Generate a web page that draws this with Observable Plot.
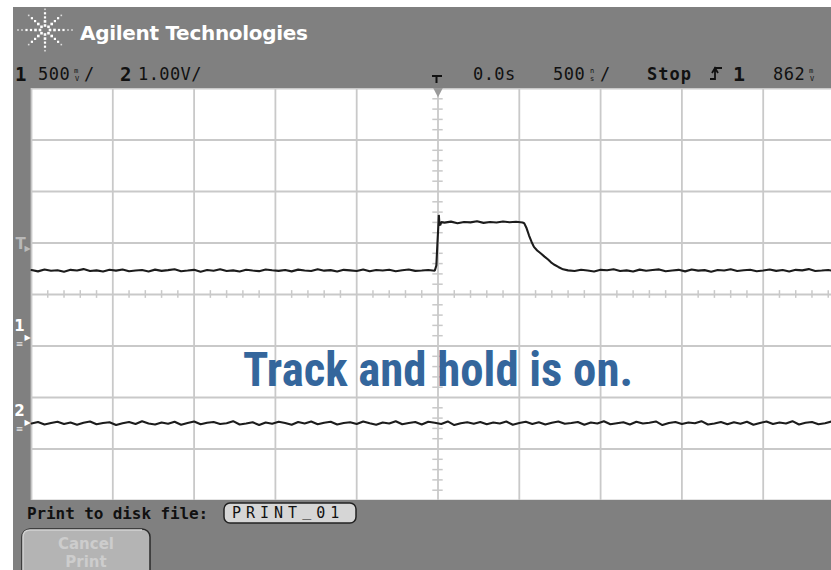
<!DOCTYPE html>
<html>
<head>
<meta charset="utf-8">
<script src="https://cdn.jsdelivr.net/npm/d3@7"></script>
<script src="https://cdn.jsdelivr.net/npm/@observablehq/plot@0.6"></script>
<style>
html, body { margin: 0; padding: 0; background: #ffffff; }
#scope { position: relative; width: 831px; height: 570px; overflow: hidden; background: #ffffff; }
#chrome { position: absolute; left: 0; top: 0; }
#screen { position: absolute; left: 13px; top: 88px; width: 818px; height: 412px; overflow: hidden; }
.mono { font-family: "DejaVu Sans Mono", monospace; }
.sans { font-family: "DejaVu Sans", sans-serif; }
</style>
</head>
<body>
<div id="scope">
  <svg id="chrome" width="831" height="570" xmlns="http://www.w3.org/2000/svg">
    <rect x="13" y="7" width="818" height="563" fill="#808080"></rect>
    <g id="logo"></g>
    <text x="80" y="40" class="sans" font-size="20" font-weight="bold" fill="#ffffff" letter-spacing="-0.3">Agilent Technologies</text>

    <!-- status line -->
    <g id="status" fill="#111111"></g>

    <!-- bottom softkeys -->
    <text x="27" y="519" class="mono" font-size="16" font-weight="bold" fill="#111111" letter-spacing="-0.1">Print to disk file:</text>
    <rect x="224" y="503" width="132" height="20" rx="6" fill="#d6d6d6" stroke="#222222" stroke-width="1.5"></rect>
    <text x="232" y="518" class="mono" font-size="15" fill="#111111" letter-spacing="5">PRINT<tspan dy="-2">_</tspan><tspan dy="2">01</tspan></text>
    <rect x="22" y="529" width="128" height="52" rx="8" fill="#b4b4b4" stroke="#2a2a2a" stroke-width="1.5"></rect>
    <path d="M23,575 V537 Q23,530 30,530 H142" fill="none" stroke="#d2d2d2" stroke-width="1.5"></path>
    <text x="86" y="549" class="sans" font-size="15" font-weight="bold" fill="#cdcdcd" text-anchor="middle">Cancel</text>
    <text x="86" y="567" class="sans" font-size="15" font-weight="bold" fill="#cdcdcd" text-anchor="middle">Print</text>
  </svg>
  <div id="screen"></div>
</div>
<script>
// ---------- scope settings (status line) ----------
const timePerDiv = 500;          // ns / div
const timeDomain = [-2500, 2500]; // ns, 10 divisions
const ch1VoltsPerDiv = 0.5;      // 500 mV/div
const ch2VoltsPerDiv = 1.0;      // 1.00 V/div
const ch1GroundDiv = -0.835;     // channel 1 ground marker position (divisions)
const ch2GroundDiv = -2.485;     // channel 2 ground marker position (divisions)
const triggerLevel = 0.862;      // V on channel 1
const triggerTime = 0;           // ns (trigger position marker)

// ---------- channel 1 trace (time ns, volts) ----------
const ch1Time = [
  -2500,-2460,-2420,-2380,-2340,-2300,-2260,-2220,-2180,-2140,
  -2100,-2060,-2020,-1980,-1940,-1900,-1860,-1820,-1780,-1740,
  -1700,-1660,-1620,-1580,-1540,-1500,-1460,-1420,-1380,-1340,
  -1300,-1260,-1220,-1180,-1140,-1100,-1060,-1020,-980,-940,
  -900,-860,-820,-780,-740,-700,-660,-620,-580,-540,
  -500,-460,-420,-380,-340,-300,-260,-220,-180,-140,
  -100,-60,-20,
  -10,-4,2,5,9,14,20,
  40,80,120,160,200,240,280,320,360,400,440,480,520,
  530,545,560,575,590,610,633,655,677,695,713,740,769,800,
  840,880,920,960,1000,1040,1080,1120,1160,1200,
  1240,1280,1320,1360,1400,1440,1480,1520,1560,1600,
  1640,1680,1720,1760,1800,1840,1880,1920,1960,2000,
  2040,2080,2120,2160,2200,2240,2280,2320,2360,2400,
  2440,2480,2500
];
const ch1Volt = [
  0.655,0.642,0.660,0.648,0.653,0.638,0.657,0.650,0.664,0.645,
  0.652,0.640,0.658,0.649,0.661,0.644,0.651,0.656,0.641,0.659,
  0.647,0.654,0.662,0.643,0.650,0.657,0.639,0.655,0.648,0.663,
  0.646,0.652,0.641,0.658,0.650,0.644,0.660,0.653,0.647,0.656,
  0.642,0.659,0.651,0.645,0.662,0.649,0.654,0.640,0.657,0.652,
  0.646,0.661,0.643,0.655,0.650,0.658,0.644,0.653,0.660,0.647,
  0.651,0.656,0.648,
  0.70,0.90,1.08,1.19,1.10,1.09,1.12,
  1.115,1.125,1.110,1.122,1.118,1.128,1.113,1.121,1.116,1.126,1.119,1.124,1.117,
  1.11,1.06,0.99,0.93,0.88,0.845,0.815,0.785,0.757,0.730,0.709,0.685,0.662,0.652,
  0.645,0.658,0.650,0.641,0.657,0.653,0.663,0.646,0.652,0.640,
  0.659,0.648,0.655,0.661,0.644,0.651,0.657,0.642,0.660,0.649,
  0.654,0.639,0.656,0.650,0.662,0.645,0.653,0.658,0.643,0.651,
  0.660,0.647,0.655,0.641,0.657,0.652,0.664,0.646,0.650,0.656,
  0.643,0.659,0.651
];

// ---------- channel 2 trace (time ns, volts) ----------
const ch2Time = [
  -2500,-2460,-2420,-2380,-2340,-2300,-2260,-2220,-2180,-2140,
  -2100,-2060,-2020,-1980,-1940,-1900,-1860,-1820,-1780,-1740,
  -1700,-1660,-1620,-1580,-1540,-1500,-1460,-1420,-1380,-1340,
  -1300,-1260,-1220,-1180,-1140,-1100,-1060,-1020,-980,-940,
  -900,-860,-820,-780,-740,-700,-660,-620,-580,-540,
  -500,-460,-420,-380,-340,-300,-260,-220,-180,-140,
  -100,-60,-20,20,60,100,140,180,220,260,
  300,340,380,420,460,500,540,580,620,660,
  700,740,780,820,860,900,940,980,1020,1060,
  1100,1140,1180,1220,1260,1300,1340,1380,1420,1460,
  1500,1540,1580,1620,1660,1700,1740,1780,1820,1860,
  1900,1940,1980,2020,2060,2100,2140,2180,2220,2260,
  2300,2340,2380,2420,2460,2500
];
const ch2Volt = [
  -0.02,0.01,-0.04,-0.01,0.015,-0.03,0.0,-0.045,-0.005,0.02,
  -0.035,-0.01,0.005,-0.05,-0.015,0.01,-0.03,0.025,-0.02,-0.04,
  0.0,-0.025,0.015,-0.045,-0.01,0.02,-0.035,-0.005,0.01,-0.03,
  -0.015,0.025,-0.04,-0.02,0.005,-0.05,0.0,-0.025,0.015,-0.01,
  -0.045,0.01,-0.02,0.02,-0.035,-0.005,0.015,-0.04,-0.01,0.005,
  -0.03,0.02,-0.015,-0.045,0.0,-0.02,0.025,-0.035,-0.01,0.01,
  -0.04,0.015,-0.005,-0.03,0.02,-0.05,-0.015,0.005,-0.025,0.01,
  -0.035,0.0,-0.02,0.02,-0.045,-0.01,0.015,-0.03,0.005,-0.04,
  -0.005,0.02,-0.025,-0.01,0.01,-0.045,0.0,-0.02,0.025,-0.035,
  -0.015,0.005,-0.04,0.015,-0.02,-0.005,0.02,-0.05,-0.01,0.01,
  -0.03,0.0,-0.015,0.025,-0.04,-0.02,0.01,-0.035,0.005,-0.025,
  0.015,-0.045,-0.01,0.02,-0.03,0.0,-0.02,0.025,-0.04,-0.005,
  0.01,-0.035,-0.015,0.02,-0.025,0.0
];

// ---------- labels ----------
const channelMarkers = ["T", "1", "2"];
const annotationText = "Track and hold is on.";

// ---------- chrome: logo + status line ----------
(function buildChrome() {
  const ns = "http://www.w3.org/2000/svg";
  const logo = document.getElementById("logo");
  const cx = 45, cy = 30;
  for (let k = 0; k < 8; k++) {
    const a = k * Math.PI / 4;
    const horiz = (k % 4 === 0);
    const radii = horiz ? [5, 9.5, 14, 18.5, 23, 27] : [5, 9.5, 14, 18.5, 23];
    radii.forEach((r, i) => {
      const s = i < 2 ? 2.6 : (i < 4 ? 2.2 : 1.6);
      const px = cx + r * Math.cos(a), py = cy + r * Math.sin(a) * 0.9;
      const c = document.createElementNS(ns, "rect");
      c.setAttribute("x", (px - s / 2).toFixed(1));
      c.setAttribute("y", (py - s / 2).toFixed(1));
      c.setAttribute("width", s); c.setAttribute("height", s);
      c.setAttribute("fill", i < 4 ? "#ffffff" : "#dddddd");
      logo.appendChild(c);
    });
  }
  const st = document.getElementById("status");
  function txt(x, y, s, size, bold, extra) {
    const t = document.createElementNS(ns, "text");
    t.setAttribute("x", x); t.setAttribute("y", y);
    t.setAttribute("font-size", size);
    t.setAttribute("font-family", "DejaVu Sans Mono, monospace");
    if (bold) t.setAttribute("font-weight", "bold");
    if (extra) for (const k in extra) t.setAttribute(k, extra[k]);
    t.textContent = s;
    st.appendChild(t);
  }
  function path(d, w) {
    const p = document.createElementNS(ns, "path");
    p.setAttribute("d", d); p.setAttribute("fill", "none");
    p.setAttribute("stroke", "#111111"); p.setAttribute("stroke-width", w || 2);
    st.appendChild(p);
  }
  const base = 80;
  txt(15, base + 1, "1", 19, true);
  txt(38, base, "500", 17, false, {"letter-spacing": "0.5"});
  txt(74, base - 7, "m", 7, false); txt(75, base + 1, "V", 7, false);
  txt(84, base, "/", 17, false);
  txt(120, base + 1, "2", 19, true);
  txt(138, base, "1.00V/", 17, false, {"letter-spacing": "0.4"});
  path("M432,76 H442 M436.5,76 V83", 2);
  txt(473, base, "0.0s", 17, false, {"letter-spacing": "0.4"});
  txt(553, base, "500", 17, false, {"letter-spacing": "0.5"});
  txt(590, base - 7, "n", 7, false); txt(590, base + 1, "s", 7, false);
  txt(600, base, "/", 17, false);
  txt(647, base, "Stop", 17, true, {"letter-spacing": "1"});
  path("M710,79 H715 V68 H722 M712,73 L715,68 L718,73", 1.8);
  txt(733, base + 1, "1", 20, true);
  txt(773, base, "862", 17, false, {"letter-spacing": "0.5"});
  txt(809, base - 7, "m", 7, false); txt(810, base + 1, "V", 7, false);
})();

// ---------- plot ----------
const ch1 = ch1Time.map((t, i) => ({t, v: ch1Volt[i]}));
const ch2 = ch2Time.map((t, i) => ({t, v: ch2Volt[i]}));
const gridColor = "#c9c9c9";
const xMajor = d3.range(timeDomain[0], timeDomain[1] + 1, timePerDiv);
const yMajor = d3.range(-4, 5, 1);
const yMinor = d3.range(-40, 41, 2).filter(k => k % 10 !== 0).map(k => k / 10);
const xMinor = d3.range(-50, 51, 2).filter(k => k % 10 !== 0).map(k => k * timePerDiv / 10);
const trigDiv = triggerLevel / ch1VoltsPerDiv + ch1GroundDiv;
const trigRow = [{label: channelMarkers[0], div: trigDiv}];
const groundRows = [
  {label: channelMarkers[1], div: ch1GroundDiv},
  {label: channelMarkers[2], div: ch2GroundDiv}
];
const markerFont = "DejaVu Sans, sans-serif";
// downward-pointing triangle symbol for the trigger-position marker
const triangleDown = {
  draw(context, size) {
    const w = Math.sqrt(size) * 0.62, h = w * 0.95;
    context.moveTo(-w, -h);
    context.lineTo(w, -h);
    context.lineTo(0, h);
    context.closePath();
  }
};

const chart = Plot.plot({
  width: 818,
  height: 412,
  marginLeft: 18, marginRight: 0, marginTop: 0, marginBottom: 0,
  x: {domain: timeDomain, range: [18, 831], axis: null},
  y: {domain: [-4, 4], range: [412, 0], axis: null},
  style: {background: "transparent", overflow: "visible"},
  marks: [
    Plot.frame({fill: "#ffffff", stroke: "none"}),
    Plot.ruleX(xMajor, {stroke: gridColor, strokeWidth: 1.8}),
    Plot.ruleY(yMajor, {stroke: gridColor, strokeWidth: 1.8}),
    Plot.ruleY(yMinor, {x1: -32, x2: 32, stroke: gridColor, strokeWidth: 1.5}),
    Plot.ruleX(xMinor, {y1: -0.075, y2: 0.075, stroke: gridColor, strokeWidth: 1.5}),
    Plot.dot([triggerTime], {x: d => d, y: 4, symbol: triangleDown, r: 4.5, dy: 4, fill: "#9a9a9a", stroke: "none"}),
    Plot.text([annotationText], {
      x: 0, y: -1.47, text: d => d, fill: "#34669c", fontSize: 48, fontWeight: "bold",
      fontFamily: "'Liberation Sans Narrow', 'Arial Narrow', 'Roboto Condensed', 'DejaVu Sans Condensed', sans-serif",
      textAnchor: "middle", className: "annot"
    }),
    Plot.line(ch2, {x: "t", y: d => d.v / ch2VoltsPerDiv + ch2GroundDiv, stroke: "#1c1c1c", strokeWidth: 2.1, strokeLinejoin: "miter"}),
    Plot.line(ch1, {x: "t", y: d => d.v / ch1VoltsPerDiv + ch1GroundDiv, stroke: "#1c1c1c", strokeWidth: 2.1, strokeLinejoin: "miter"}),
    // left-edge channel markers (in the grey strip)
    Plot.text(trigRow, {x: timeDomain[0], y: "div", text: "label", fill: "#b9b9b9", dx: -11, dy: -5, fontSize: 15, fontWeight: "bold", fontFamily: markerFont}),
    Plot.text(trigRow, {x: timeDomain[0], y: "div", text: () => "▶", fill: "#b9b9b9", dx: -4, dy: 0, fontSize: 8, fontFamily: markerFont}),
    Plot.text(groundRows, {x: timeDomain[0], y: "div", text: "label", fill: "#ffffff", dx: -12, dy: -11, fontSize: 15, fontWeight: "bold", fontFamily: markerFont}),
    Plot.text(groundRows, {x: timeDomain[0], y: "div", text: () => "▶", fill: "#ffffff", dx: -4, dy: 0, fontSize: 8, fontFamily: markerFont}),
    Plot.text(groundRows, {x: timeDomain[0], y: "div", text: () => "≡", fill: "#e6e6e6", dx: -12, dy: 7, fontSize: 9, fontFamily: markerFont})
  ]
});
document.getElementById("screen").appendChild(chart);

// force the annotation to its measured width
d3.select(chart).selectAll(".annot text").attr("textLength", 390).attr("lengthAdjust", "spacingAndGlyphs");
</script>
</body>
</html>
